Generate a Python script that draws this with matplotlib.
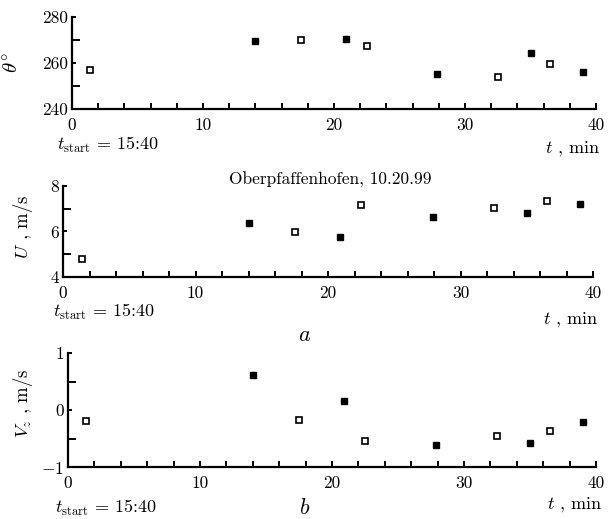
import matplotlib.pyplot as plt
from matplotlib.ticker import MultipleLocator

plt.rcParams['font.family'] = 'cmr10'
plt.rcParams['mathtext.fontset'] = 'cm'
plt.rcParams['axes.formatter.use_mathtext'] = True
plt.rcParams['axes.unicode_minus'] = False

# time of each measurement, min (open / filled squares)
t_open = [1.4, 17.5, 22.5, 32.5, 36.5]
t_fill = [14.0, 20.9, 27.9, 35.0, 39.0]

theta_open = [256.8, 270.1, 267.3, 253.7, 259.7]
theta_fill = [269.4, 270.4, 255.3, 264.5, 256.1]

u_open = [4.78, 5.96, 7.18, 7.05, 7.35]
u_fill = [6.37, 5.76, 6.64, 6.80, 7.22]

vz_open = [-0.19, -0.17, -0.54, -0.45, -0.36]
vz_fill = [0.61, 0.16, -0.62, -0.58, -0.21]

x_ticks = [0, 10, 20, 30, 40]
x_labels = ['0', '10', '20', '30', '40']
theta_ticks = [240, 260, 280]
theta_labels = ['240', '260', '280']
u_ticks = [4, 6, 8]
u_labels = ['4', '6', '8']
vz_ticks = [-1, 0, 1]
vz_labels = ['$-1$', '0', '1']

fig = plt.figure(figsize=(6.08, 5.19), dpi=100)
W, H = 608, 519


def add_panel(x0, x1, ytop, ybot):
    return fig.add_axes([x0 / W, 1 - ybot / H, (x1 - x0) / W, (ybot - ytop) / H])


panels = [
    (add_panel(72, 596, 17, 109), theta_open, theta_fill, theta_ticks, theta_labels, (240, 280), 10),
    (add_panel(63, 593, 186, 277), u_open, u_fill, u_ticks, u_labels, (4, 8), 1),
    (add_panel(68, 596, 353, 467), vz_open, vz_fill, vz_ticks, vz_labels, (-1, 1), 0.5),
]

for ax, yo, yf, yt, yl, ylim, yminor in panels:
    ax.plot(t_open, yo, 's', ms=5, mfc='white', mec='black', mew=1.2, clip_on=False)
    ax.plot(t_fill, yf, 's', ms=5, mfc='black', mec='black', clip_on=False)
    ax.set_xlim(0, 40)
    ax.set_ylim(*ylim)
    ax.spines['top'].set_visible(False)
    ax.spines['right'].set_visible(False)
    ax.spines['left'].set_linewidth(1.6)
    ax.spines['bottom'].set_linewidth(1.6)
    ax.set_xticks(x_ticks)
    ax.set_xticklabels(x_labels)
    ax.xaxis.set_minor_locator(MultipleLocator(2))
    ax.set_yticks(yt)
    ax.set_yticklabels(yl)
    ax.yaxis.set_minor_locator(MultipleLocator(yminor))
    ax.tick_params(which='both', direction='in', width=1.4, labelsize=12.5)
    ax.tick_params(axis='x', which='both', length=4, pad=6)
    ax.tick_params(axis='y', which='major', length=3, pad=3)
    ax.tick_params(axis='y', which='minor', length=6)

# axis labels as free text
fig.text(13 / W, 1 - 63 / H, r'$\theta^{\circ}$', rotation=90, ha='center', va='center', fontsize=15)
fig.text(23 / W, 1 - 227 / H, r'$U$ , m/s', rotation=90, ha='center', va='center', fontsize=13.5)
fig.text(23 / W, 1 - 403 / H, r'$V_z$ , m/s', rotation=90, ha='center', va='center', fontsize=13.5)

for xs, yc in [(57, 145), (53, 312), (55, 508)]:
    fig.text(xs / W, 1 - yc / H, r'$t_{\rm start}$ = 15:40', ha='left', va='center', fontsize=13)
for xe, yc in [(600, 149), (598, 320), (602, 505)]:
    fig.text(xe / W, 1 - yc / H, r'$t$ , min', ha='right', va='center', fontsize=13)

fig.text(330 / W, 1 - 180 / H, 'Oberpfaffenhofen, 10.20.99', ha='center', va='center', fontsize=12.5)
fig.text(305 / W, 1 - 335 / H, r'$a$', ha='center', va='center', fontsize=16)
fig.text(305 / W, 1 - 508 / H, r'$b$', ha='center', va='center', fontsize=16)

fig.savefig('out.png', dpi=100)
